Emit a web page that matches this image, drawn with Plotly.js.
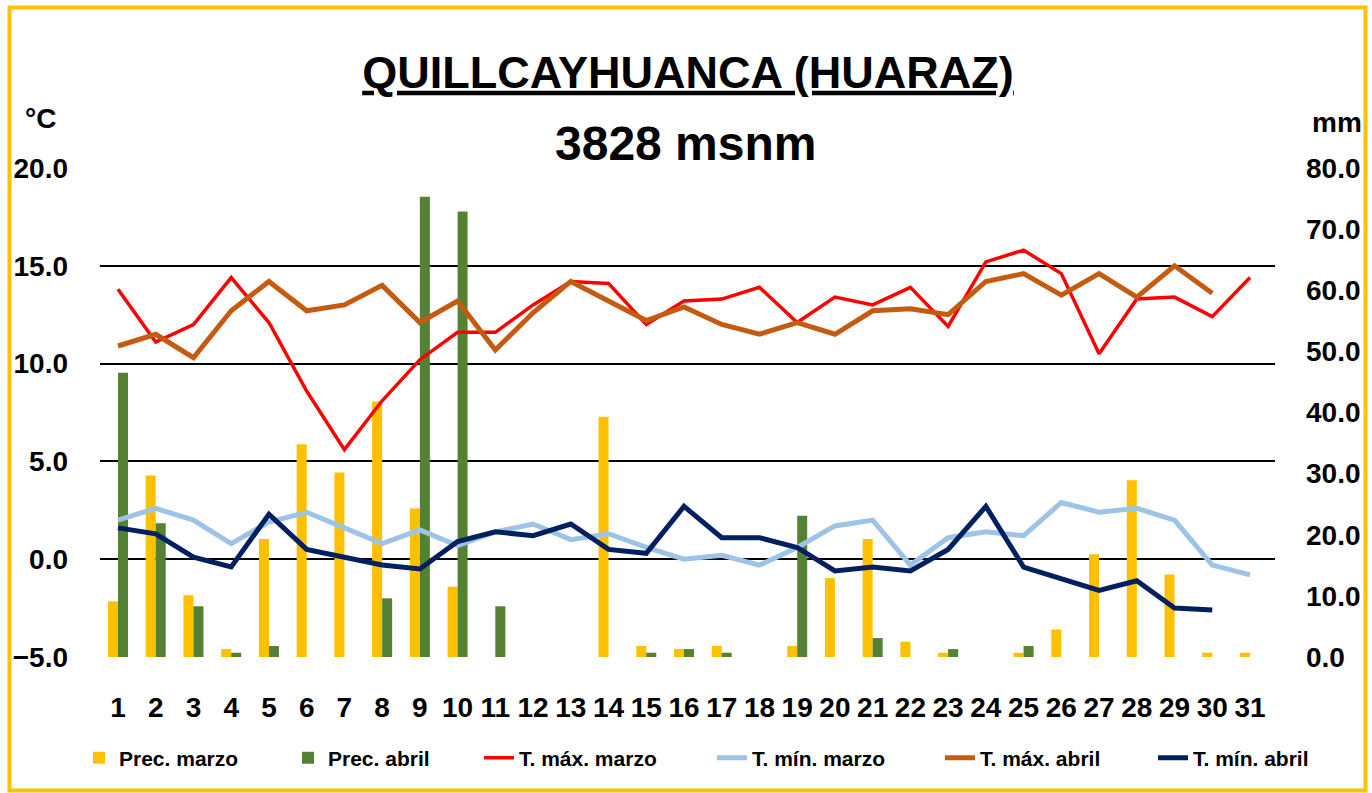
<!DOCTYPE html>
<html>
<head>
<meta charset="utf-8">
<script src="https://cdn.plot.ly/plotly-3.0.1.min.js"></script>
<style>
  html, body { margin: 0; padding: 0; background: #ffffff; }
  #chart { width: 1372px; height: 793px; }
</style>
</head>
<body>
<div id="chart"></div>
<script>
// ---- Data ----
const dias = [1,2,3,4,5,6,7,8,9,10,11,12,13,14,15,16,17,18,19,20,21,22,23,24,25,26,27,28,29,30,31];
const diasEtiquetas = ["1","2","3","4","5","6","7","8","9","10","11","12","13","14","15","16","17","18","19","20","21","22","23","24","25","26","27","28","29","30","31"];

const precMarzo = [9.1, 29.7, 10.1, 1.3, 19.3, 34.8, 30.2, 41.8, 24.3, 11.5, 0, 0, 0, 39.3, 1.8, 1.3, 1.8, 0, 1.8, 12.9, 19.3, 2.5, 0.7, 0, 0.7, 4.5, 16.8, 28.9, 13.5, 0.7, 0.7];
const precAbril = [46.5, 21.9, 8.3, 0.7, 1.8, 0, 0, 9.6, 75.3, 72.9, 8.3, 0, 0, 0, 0.7, 1.3, 0.7, 0, 23.1, 0, 3.1, 0, 1.3, 0, 1.8, 0, 0, 0, 0, 0, null];

const tmaxMarzo = [13.8, 11.1, 12.0, 14.4, 12.1, 8.6, 5.6, 8.1, 10.2, 11.6, 11.6, 13.0, 14.2, 14.1, 12.0, 13.2, 13.3, 13.9, 12.1, 13.4, 13.0, 13.9, 11.9, 15.2, 15.8, 14.6, 10.5, 13.3, 13.4, 12.4, 14.4];
const tminMarzo = [2.0, 2.6, 2.0, 0.8, 1.9, 2.4, 1.6, 0.8, 1.5, 0.7, 1.4, 1.8, 1.0, 1.3, 0.6, 0.0, 0.2, -0.3, 0.6, 1.7, 2.0, -0.3, 1.1, 1.4, 1.2, 2.9, 2.4, 2.6, 2.0, -0.3, -0.8];
const tmaxAbril = [10.9, 11.5, 10.3, 12.7, 14.2, 12.7, 13.0, 14.0, 12.1, 13.2, 10.7, 12.6, 14.2, 13.2, 12.2, 12.9, 12.0, 11.5, 12.1, 11.5, 12.7, 12.8, 12.5, 14.2, 14.6, 13.5, 14.6, 13.4, 15.0, 13.6, null];
const tminAbril = [1.6, 1.3, 0.1, -0.4, 2.3, 0.5, 0.1, -0.3, -0.5, 0.9, 1.4, 1.2, 1.8, 0.5, 0.3, 2.7, 1.1, 1.1, 0.6, -0.6, -0.4, -0.6, 0.5, 2.7, -0.4, -1.0, -1.6, -1.1, -2.5, -2.6, null];

const tempTicks = [-5, 0, 5, 10, 15, 20];
const precTicks = [0, 10, 20, 30, 40, 50, 60, 70, 80];

// ---- Layout helpers (pixel geometry of the plot area) ----
const W = 1372, H = 793;
const plotL = 100, plotR = 1275, plotT = 168, plotB = 657;
const pw = plotR - plotL, ph = plotB - plotT;
const px2x = p => (p - plotL) / pw;
const py2y = p => (plotB - p) / ph;

const FONT = '"Liberation Sans", Arial, sans-serif';

const legendY = py2y(758);
function legendAt(textStartPx) {
  return {
    orientation: 'h', x: px2x(textStartPx - 40), xanchor: 'left',
    y: legendY, yanchor: 'middle', bgcolor: 'rgba(0,0,0,0)',
    font: {family: FONT, size: 21, color: '#000', weight: 'bold'},
    itemclick: false, itemdoubleclick: false
  };
}

const traces = [
  {type: 'bar', name: 'Prec. marzo', x: dias, y: precMarzo, yaxis: 'y', marker: {color: '#FFC000'}, legend: 'legend'},
  {type: 'bar', name: 'Prec. abril', x: dias, y: precAbril, yaxis: 'y', marker: {color: '#548235'}, legend: 'legend2'},
  {type: 'scatter', mode: 'lines', name: 'T. máx. marzo', x: dias, y: tmaxMarzo, yaxis: 'y2', line: {color: '#FF0000', width: 3.5}, legend: 'legend3'},
  {type: 'scatter', mode: 'lines', name: 'T. mín. marzo', x: dias, y: tminMarzo, yaxis: 'y2', line: {color: '#9DC3E6', width: 5}, legend: 'legend4'},
  {type: 'scatter', mode: 'lines', name: 'T. máx. abril', x: dias, y: tmaxAbril, yaxis: 'y2', line: {color: '#C55A11', width: 5}, legend: 'legend5'},
  {type: 'scatter', mode: 'lines', name: 'T. mín. abril', x: dias, y: tminAbril, yaxis: 'y2', line: {color: '#002060', width: 5}, legend: 'legend6'}
];

const layout = {
  width: W, height: H,
  paper_bgcolor: '#ffffff', plot_bgcolor: 'rgba(0,0,0,0)',
  margin: {l: plotL, r: W - plotR, t: plotT, b: H - plotB, pad: 0},
  font: {family: FONT, color: '#000'},
  title: {
    text: 'QUILLCAYHUANCA (HUARAZ)',
    x: 688 / W, xanchor: 'center', xref: 'container',
    y: 1 - 72 / H, yanchor: 'middle', yref: 'container',
    font: {family: FONT, size: 45, color: '#000', weight: 'bold', lineposition: 'under'}
  },
  barmode: 'group', bargap: 0.47, bargroupgap: 0,
  showlegend: true,
  legend: legendAt(119),
  legend2: legendAt(328),
  legend3: legendAt(519),
  legend4: legendAt(752),
  legend5: legendAt(980),
  legend6: legendAt(1193),
  xaxis: {
    range: [1 - 18 / 37.73, 31 + 25 / 37.73],
    tickmode: 'array', tickvals: dias, ticktext: diasEtiquetas,
    showgrid: false, zeroline: false, showline: false, ticks: '',
    ticklabelstandoff: 31,
    tickfont: {family: FONT, size: 28, color: '#000', weight: 'bold'},
    fixedrange: true
  },
  yaxis: {
    side: 'right', range: [0, 80],
    tickmode: 'array', tickvals: precTicks, tickformat: '.1f',
    showgrid: false, zeroline: false, showline: false, ticks: '',
    ticklabelstandoff: 30,
    tickfont: {family: FONT, size: 28, color: '#000', weight: 'bold'},
    fixedrange: true
  },
  yaxis2: {
    side: 'left', overlaying: 'y', range: [-5, 20],
    tickmode: 'array', tickvals: tempTicks, tickformat: '.1f',
    showgrid: true, gridcolor: '#000000', gridwidth: 2,
    zeroline: false, showline: false, ticks: '',
    ticklabelstandoff: 31,
    tickfont: {family: FONT, size: 28, color: '#000', weight: 'bold'},
    fixedrange: true
  },
  annotations: [
    {text: '3828 msnm', xref: 'paper', yref: 'paper', x: px2x(686), y: py2y(143),
     xanchor: 'center', yanchor: 'middle', showarrow: false,
     font: {family: FONT, size: 48, color: '#000', weight: 'bold'}},
    {text: '°C', xref: 'paper', yref: 'paper', x: px2x(40), y: py2y(118),
     xanchor: 'center', yanchor: 'middle', showarrow: false,
     font: {family: FONT, size: 28, color: '#000', weight: 'bold'}},
    {text: 'mm', xref: 'paper', yref: 'paper', x: px2x(1337), y: py2y(122),
     xanchor: 'center', yanchor: 'middle', showarrow: false,
     font: {family: FONT, size: 28, color: '#000', weight: 'bold'}}
  ],
  shapes: [
    {type: 'rect', xref: 'paper', yref: 'paper', layer: 'above',
     x0: px2x(9.5), x1: px2x(1365.5), y0: py2y(790.5), y1: py2y(7.5),
     line: {color: '#FFC000', width: 4}, fillcolor: 'rgba(0,0,0,0)'}
  ]
};

Plotly.newPlot('chart', traces, layout, {displayModeBar: false, staticPlot: true});
</script>
</body>
</html>
